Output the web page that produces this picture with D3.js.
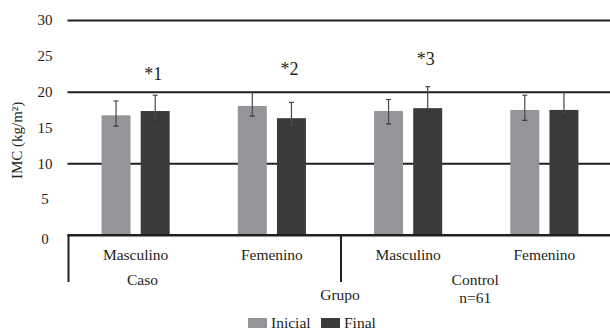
<!DOCTYPE html>
<html>
<head>
<meta charset="utf-8">
<script src="https://cdn.jsdelivr.net/npm/d3@7"></script>
<style>
  html, body { margin: 0; padding: 0; background: #fff; }
  svg { display: block; }
  svg text { font-family: "Liberation Serif", "DejaVu Serif", serif !important; fill: #231f20; }
</style>
</head>
<body>
<svg id="chart" width="610" height="332" font-family="Liberation Serif, serif"></svg>
<script>
// Subgroups (sex) within each group
const categories = ["Caso|Masculino", "Caso|Femenino", "Control|Masculino", "Control|Femenino"];
const categoryLabels = ["Masculino", "Femenino", "Masculino", "Femenino"];
const series = ["Inicial", "Final"];

// Mean IMC (kg/m²)
const inicialValues = [16.7, 18.0, 17.3, 17.45];
const finalValues   = [17.3, 16.3, 17.7, 17.45];

// Whisker ends
const inicialHigh = [18.7, 20.0, 18.9, 19.5];
const inicialLow  = [15.2, 16.6, 15.5, 16.0];
const finalHigh   = [19.5, 18.5, 20.7, 20.0];
const finalLow    = [16.0, 15.0, 17.3, 16.6];

// Significance marks over the "Final" bar
const marks = ["*1", "*2", "*3"];
const markCategory = [0, 1, 2];
const markLevel = [21.6, 22.3, 23.7];

const yTicks = [0, 5, 10, 15, 20, 25, 30];
const gridTicks = [0, 10, 20, 30];

const colors = { Inicial: "#939598", Final: "#3b3b3c" };
const ink = "#231f20";

const svg = d3.select("#chart");

const y = d3.scaleLinear().domain([0, 30]).range([235, 20]);
const x = d3.scaleBand().domain(categories).range([67.5, 612.5]).paddingInner(0).paddingOuter(0);
const xs = d3.scaleBand().domain(series).range([0, x.bandwidth()]).paddingInner(0.26).paddingOuter(0.87);

// Horizontal grid lines
const grid = svg.append("g").attr("transform", `translate(${x.range()[0]},0)`)
  .call(d3.axisLeft(y).tickValues(gridTicks).tickSize(-(610 - x.range()[0])).tickFormat(""));
grid.select(".domain").remove();
grid.selectAll(".tick line").attr("stroke", ink).attr("stroke-width", 2);

// Y tick labels
const yAx = svg.append("g").attr("transform", "translate(45,0)")
  .call(d3.axisLeft(y).tickValues(yTicks).tickSize(0).tickPadding(0));
yAx.attr("font-family", null).attr("font-size", null);
yAx.select(".domain").remove();
yAx.selectAll(".tick text")
  .attr("text-anchor", "middle").attr("x", 0)
  .style("font-size", "15px");
yAx.selectAll(".tick").filter(d => d === 0).select("text").attr("dy", "0.55em");

// Y axis title
svg.append("text")
  .attr("transform", `translate(22,${y(13.2)}) rotate(-90)`)
  .attr("text-anchor", "middle")
  .style("font-size", "15px")
  .text("IMC (kg/m²)");

// Bars
const rows = categories.map((c, i) => ({
  cat: c,
  items: [
    { key: "Inicial", v: inicialValues[i], hi: inicialHigh[i], lo: inicialLow[i] },
    { key: "Final", v: finalValues[i], hi: finalHigh[i], lo: finalLow[i] }
  ]
}));

const groups = svg.append("g").selectAll("g").data(rows).join("g")
  .attr("transform", d => `translate(${x(d.cat)},0)`);

groups.selectAll("rect").data(d => d.items).join("rect")
  .attr("x", d => xs(d.key))
  .attr("width", xs.bandwidth())
  .attr("y", d => y(d.v))
  .attr("height", d => y(0) - y(d.v))
  .attr("fill", d => colors[d.key]);

// Error bars
const eb = groups.selectAll("g.err").data(d => d.items).join("g").attr("class", "err")
  .attr("transform", d => `translate(${xs(d.key) + xs.bandwidth() / 2},0)`);
eb.append("line").attr("y1", d => y(d.hi)).attr("y2", d => y(d.lo))
  .attr("stroke", "#4a4a4a").attr("stroke-width", 1.2);
eb.append("line").attr("x1", -2.5).attr("x2", 2.5).attr("y1", d => y(d.hi)).attr("y2", d => y(d.hi))
  .attr("stroke", "#4a4a4a").attr("stroke-width", 1.2);
eb.append("line").attr("x1", -2.5).attr("x2", 2.5).attr("y1", d => y(d.lo)).attr("y2", d => y(d.lo))
  .attr("stroke", "#333").attr("stroke-width", 1.2);

// Zero line redrawn on top
svg.append("line")
  .attr("x1", x.range()[0]).attr("x2", 610)
  .attr("y1", y(0)).attr("y2", y(0))
  .attr("stroke", ink).attr("stroke-width", 2);

// Significance marks
svg.append("g").selectAll("text").data(marks).join("text")
  .attr("x", (d, i) => x(categories[markCategory[i]]) + xs("Final") + xs.bandwidth() / 2 - 2)
  .attr("y", (d, i) => y(markLevel[i]))
  .attr("text-anchor", "middle")
  .style("font-size", "18px")
  .text(d => d);

// Group separators below the axis
const seps = [x(categories[0]), x(categories[2])];
svg.append("g").selectAll("line").data(seps).join("line")
  .attr("x1", d => d + 1).attr("x2", d => d + 1)
  .attr("y1", y(0)).attr("y2", 282)
  .attr("stroke", ink).attr("stroke-width", 2);

// Subgroup labels
svg.append("g").selectAll("text").data(categories).join("text")
  .attr("x", d => x(d) + x.bandwidth() / 2)
  .attr("y", 260)
  .attr("text-anchor", "middle")
  .style("font-size", "15.5px")
  .text((d, i) => categoryLabels[i]);

// Group labels
svg.append("text")
  .attr("x", x(categories[0]) + x.bandwidth() * 0.55)
  .attr("y", 285).attr("text-anchor", "middle").style("font-size", "15.5px").text("Caso");
const ctrlX = x(categories[2]) + x.bandwidth();
svg.append("text")
  .attr("x", ctrlX - 1).attr("y", 285).attr("text-anchor", "middle").style("font-size", "15.5px").text("Control");
svg.append("text")
  .attr("x", ctrlX - 1).attr("y", 303).attr("text-anchor", "middle").style("font-size", "15.5px").text("n=61");

// Axis title
svg.append("text")
  .attr("x", x(categories[2])).attr("y", 300).attr("text-anchor", "middle").style("font-size", "15.5px").text("Grupo");

// Legend
const legendX = [248, 321];
const leg = svg.append("g").selectAll("g").data(series).join("g")
  .attr("transform", (d, i) => `translate(${legendX[i]},318)`);
leg.append("rect").attr("width", 19).attr("height", 10).attr("fill", d => colors[d]);
leg.append("text").attr("x", 23).attr("y", 9.5).style("font-size", "15.5px").text(d => d);
</script>
</body>
</html>
